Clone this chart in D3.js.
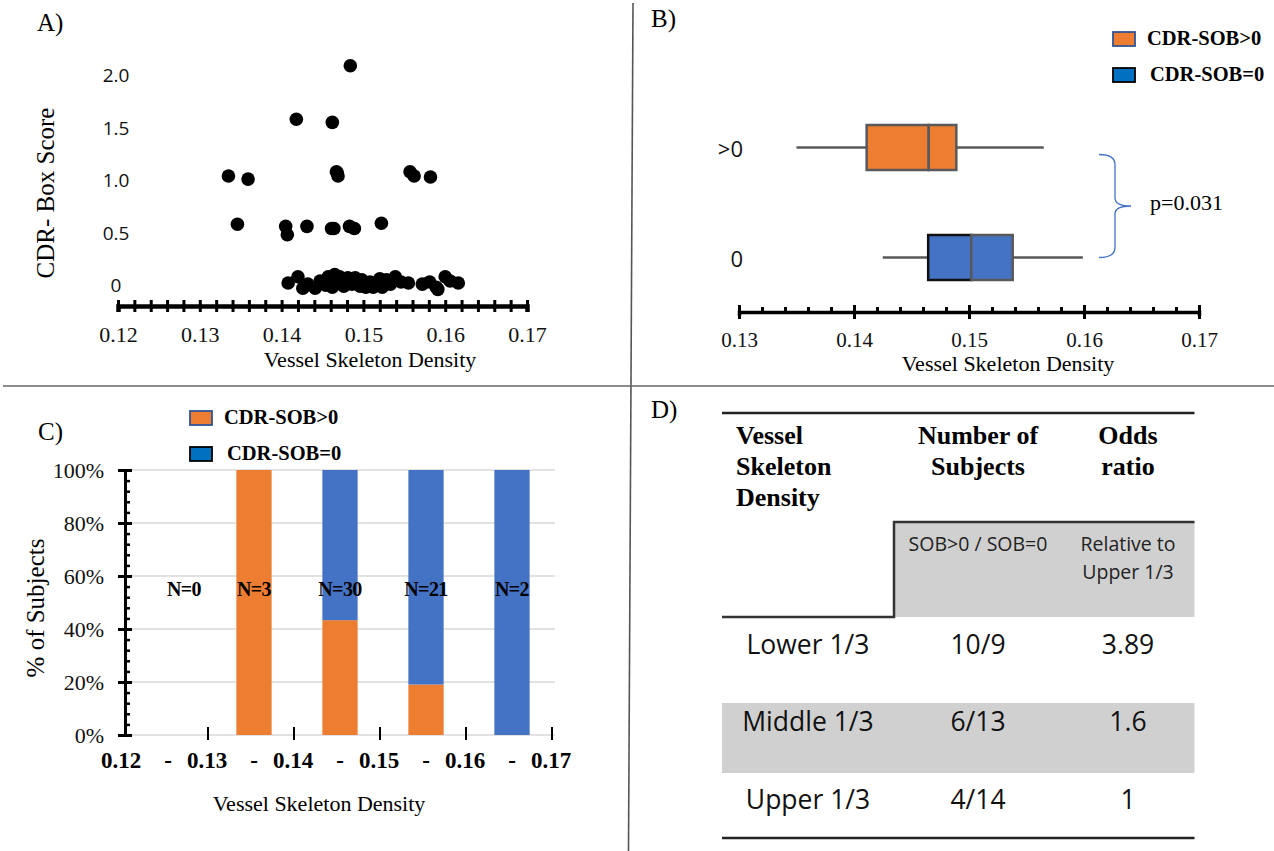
<!DOCTYPE html>
<html>
<head>
<meta charset="utf-8">
<script src="https://cdn.jsdelivr.net/npm/d3@7"></script>
<style>
  body { margin: 0; background: #fff; }
  svg { display: block; }
  .serif { font-family: "Liberation Serif", "Times New Roman", serif; }
  .sans { font-family: "Open Sans", "Liberation Sans", sans-serif; }
</style>
</head>
<body>
<div id="chart"></div>
<script>
// ---------- data ----------
// A) scatter: vessel skeleton density vs CDR box score (as read from the figure)
var scatterX = [0.1484, 0.1418, 0.1462, 0.1335, 0.1359, 0.1467, 0.1469, 0.1468, 0.1557, 0.1562, 0.1582,
  0.1346, 0.1405, 0.1407, 0.1431, 0.1461, 0.1464, 0.1483, 0.1489, 0.1522,
  0.1408, 0.1420, 0.1426, 0.1432, 0.1441, 0.1447, 0.1454, 0.1457, 0.1462, 0.1465, 0.1469, 0.1471,
  0.1476, 0.1481, 0.1486, 0.1490, 0.1496, 0.1498, 0.1503, 0.1508, 0.1512, 0.1517, 0.1520, 0.1523,
  0.1528, 0.1533, 0.1539, 0.1546, 0.1555, 0.1572, 0.1581, 0.1589, 0.1591, 0.1600, 0.1606, 0.1616];
var scatterY = [2.06, 1.55, 1.52, 1.01, 0.98, 1.05, 1.01, 1.04, 1.05, 1.01, 1.00,
  0.55, 0.53, 0.45, 0.53, 0.51, 0.51, 0.53, 0.51, 0.56,
  -0.01, 0.05, -0.06, -0.02, -0.06, 0.01, -0.03, 0.05, -0.05, 0.07, 0.00, 0.05,
  -0.04, 0.04, -0.02, 0.04, -0.04, 0.02, -0.05, 0.00, -0.05, 0.00, 0.03, -0.05,
  0.02, -0.02, 0.05, 0.00, -0.01, -0.02, 0.00, -0.05, -0.07, 0.05, 0.01, -0.01];
var scatterYTicks = [0, 0.5, 1.0, 1.5, 2.0];

// B) box plots
var boxGroups = [">0", "0"];
var boxMin = [0.1350, 0.1425];
var boxQ1 = [0.1411, 0.14645];
var boxMedian = [0.1465, 0.1502];
var boxQ3 = [0.1489, 0.1538];
var boxMax = [0.1565, 0.1599];
var pValue = "p=0.031";

// C) stacked percentage bars
var binEdges = ["0.12", "0.13", "0.14", "0.15", "0.16", "0.17"];
var binNames = ["0.12-0.13", "0.13-0.14", "0.14-0.15", "0.15-0.16", "0.16-0.17"];
var countPos = [0, 3, 13, 4, 0];    // CDR-SOB>0
var countZero = [0, 0, 17, 17, 2];  // CDR-SOB=0

// D) table
var tertiles = ["Lower 1/3", "Middle 1/3", "Upper 1/3"];
var subjectCounts = ["10/9", "6/13", "4/14"];
var oddsRatios = ["3.89", "1.6", "1"];

var legendLabels = ["CDR-SOB>0", "CDR-SOB=0"];

var orange = "#ed7d31", blue = "#4472c4";

var svg = d3.select("#chart").append("svg")
  .attr("width", 1274)
  .attr("height", 851);

svg.append("rect").attr("width", 1274).attr("height", 851).attr("fill", "#fff");

// panel dividers
svg.append("line").attr("x1", 633).attr("y1", 3).attr("x2", 628.5).attr("y2", 851)
  .attr("stroke", "#555").attr("stroke-width", 1.6);
svg.append("line").attr("x1", 3).attr("y1", 386).attr("x2", 1274).attr("y2", 386)
  .attr("stroke", "#666").attr("stroke-width", 1.6);

// panel letters
[["A)", 37, 31], ["B)", 651, 27], ["C)", 38, 440], ["D)", 651, 418]].forEach(function(p) {
  svg.append("text").attr("class", "serif").attr("x", p[1]).attr("y", p[2])
    .style("font-size", "25px").text(p[0]);
});

// ================= A) scatter =================
var xA = d3.scaleLinear().domain([0.12, 0.17]).range([118, 527]);
var yA = d3.scaleLinear().domain([0, 2]).range([282, 72]);
var axisYA = 306;

var gA = svg.append("g");

var minorA = gA.append("g")
  .attr("transform", "translate(0," + axisYA + ")")
  .call(d3.axisBottom(xA).tickValues(d3.range(0, 26).map(function(i) { return 0.12 + i * 0.002; }))
    .tickSize(6).tickFormat(""));
minorA.select(".domain").attr("stroke", "#000").attr("stroke-width", 4.5);
minorA.selectAll(".tick line").attr("y1", -6).attr("y2", 6).attr("stroke", "#000").attr("stroke-width", 3);

var majorA = gA.append("g")
  .attr("transform", "translate(0," + axisYA + ")")
  .call(d3.axisBottom(xA).tickValues(d3.range(0, 6).map(function(i) { return 0.12 + i * 0.01; }))
    .tickSize(0).tickFormat(d3.format(".2f")));
majorA.select(".domain").remove();
majorA.selectAll("text").attr("class", "serif").attr("y", 36).attr("dy", 0)
  .style("font-size", "22px").attr("fill", "#111");

var yAxisA = gA.append("g")
  .attr("transform", "translate(116,0)")
  .call(d3.axisLeft(yA).tickValues(scatterYTicks).tickSize(0)
    .tickFormat(function(d) { return d === 0 ? "0" : d3.format(".1f")(d); }));
yAxisA.select(".domain").remove();
yAxisA.selectAll("text").attr("class", "sans").attr("x", 0).attr("dy", "0.5em").attr("text-anchor", "middle")
  .style("font-size", "19px").attr("fill", "#111");

gA.selectAll("circle.pt")
  .data(d3.range(scatterX.length))
  .enter().append("circle")
  .attr("class", "pt")
  .attr("cx", function(i) { return xA(scatterX[i]); })
  .attr("cy", function(i) { return yA(scatterY[i]); })
  .attr("r", 6.8)
  .attr("fill", "#000");

gA.append("text").attr("class", "serif").attr("x", 370).attr("y", 367)
  .attr("text-anchor", "middle").style("font-size", "22px").text("Vessel Skeleton Density");
gA.append("text").attr("class", "serif")
  .attr("transform", "translate(54,193) rotate(-90)")
  .attr("text-anchor", "middle").style("font-size", "25px").text("CDR- Box Score");

// ================= B) box plots =================
var xB = d3.scaleLinear().domain([0.13, 0.17]).range([739, 1199]);
var yB = d3.scalePoint().domain(boxGroups).range([147.5, 257.5]);
var axisYB = 312;
var boxH = 45;
var gB = svg.append("g");

var minorB = gB.append("g")
  .attr("transform", "translate(0," + axisYB + ")")
  .call(d3.axisBottom(xB).tickValues(d3.range(0, 21).map(function(i) { return 0.13 + i * 0.002; }))
    .tickSize(4).tickFormat(""));
minorB.select(".domain").attr("stroke", "#000").attr("stroke-width", 3.5);
minorB.selectAll(".tick line").attr("y1", -5).attr("y2", 0).attr("stroke", "#000").attr("stroke-width", 3);

var majorB = gB.append("g")
  .attr("transform", "translate(0," + axisYB + ")")
  .call(d3.axisBottom(xB).tickValues(d3.range(0, 5).map(function(i) { return 0.13 + i * 0.01; }))
    .tickSize(7).tickFormat(d3.format(".2f")));
majorB.select(".domain").remove();
majorB.selectAll(".tick line").attr("y1", -7).attr("y2", 7).attr("stroke", "#000").attr("stroke-width", 3);
majorB.selectAll("text").attr("class", "serif").attr("y", 35).attr("dy", 0)
  .style("font-size", "21px").attr("fill", "#111");

gB.append("text").attr("class", "serif").attr("x", 1008).attr("y", 371)
  .attr("text-anchor", "middle").style("font-size", "22px").text("Vessel Skeleton Density");

boxGroups.forEach(function(g, i) {
  var cy = yB(g);
  gB.append("line")
    .attr("x1", xB(boxMin[i])).attr("x2", xB(boxMax[i]))
    .attr("y1", cy).attr("y2", cy)
    .attr("stroke", "#595959").attr("stroke-width", 2.5);
  var fill = i === 0 ? orange : blue;
  // lower half (Q1 - median) and upper half (median - Q3)
  gB.append("rect")
    .attr("x", xB(boxQ1[i])).attr("y", cy - boxH / 2)
    .attr("width", xB(boxMedian[i]) - xB(boxQ1[i])).attr("height", boxH)
    .attr("fill", fill).attr("stroke", i === 0 ? "#595959" : "#111").attr("stroke-width", 2.5);
  gB.append("rect")
    .attr("x", xB(boxMedian[i])).attr("y", cy - boxH / 2)
    .attr("width", xB(boxQ3[i]) - xB(boxMedian[i])).attr("height", boxH)
    .attr("fill", fill).attr("stroke", "#595959").attr("stroke-width", 2.5);
  gB.append("text").attr("class", "sans")
    .attr("x", 743).attr("y", cy + 2).attr("dy", "0.36em")
    .attr("text-anchor", "end").style("font-size", "22px").attr("fill", "#111").text(g);
});

// curly brace between groups
var b0 = yB(boxGroups[0]) + 7, b1 = yB(boxGroups[1]);
var bx = 1099, bm = (b0 + b1) / 2;
gB.append("path")
  .attr("d", "M" + bx + "," + b0 + " Q" + (bx + 16) + "," + b0 + " " + (bx + 16) + "," + (b0 + 10) +
    " L" + (bx + 16) + "," + (bm - 8) + " Q" + (bx + 16) + "," + bm + " " + (bx + 32) + "," + bm +
    " Q" + (bx + 16) + "," + bm + " " + (bx + 16) + "," + (bm + 8) +
    " L" + (bx + 16) + "," + (b1 - 10) + " Q" + (bx + 16) + "," + b1 + " " + bx + "," + b1)
  .attr("fill", "none").attr("stroke", blue).attr("stroke-width", 1.3);
gB.append("text").attr("class", "serif").attr("x", 1150).attr("y", 210)
  .style("font-size", "22px").text(pValue);

// legend B
function legend(g, x, y, tx, gap) {
  legendLabels.forEach(function(l, i) {
    g.append("rect").attr("x", x).attr("y", y + i * gap).attr("width", 22).attr("height", 14)
      .attr("fill", i === 0 ? orange : "#0070c0")
      .attr("stroke", i === 0 ? "#2f5597" : "#000").attr("stroke-width", 1.8);
    g.append("text").attr("class", "serif").attr("x", tx + i * 3).attr("y", y + 13 + i * gap)
      .style("font-size", "20.5px").style("font-weight", "bold").text(l);
  });
}
legend(gB, 1113, 32, 1147, 36);

// ================= C) stacked bars =================
var xC = d3.scaleBand().domain(binNames).range([125, 555]).paddingInner(0.59).paddingOuter(0.295);
var yC = d3.scaleLinear().domain([0, 1]).range([735, 470]);
var gC = svg.append("g");
var stepC = xC.step();

gC.selectAll("line.grid")
  .data(d3.range(0, 6).map(function(i) { return i * 0.2; }))
  .enter().append("line").attr("class", "grid")
  .attr("x1", 125).attr("x2", 555)
  .attr("y1", function(d) { return yC(d); }).attr("y2", function(d) { return yC(d); })
  .attr("stroke", "#d9d9d9").attr("stroke-width", 1.5);

var binData = binNames.map(function(b, i) {
  var n = countPos[i] + countZero[i];
  return { bin: b, n: n, pos: n ? countPos[i] / n : 0, zero: n ? countZero[i] / n : 0 };
});

gC.selectAll("rect.pos").data(binData).enter().append("rect").attr("class", "pos")
  .attr("x", function(d) { return xC(d.bin); })
  .attr("width", xC.bandwidth())
  .attr("y", function(d) { return yC(d.pos); })
  .attr("height", function(d) { return yC(0) - yC(d.pos); })
  .attr("fill", orange);
gC.selectAll("rect.zero").data(binData).enter().append("rect").attr("class", "zero")
  .attr("x", function(d) { return xC(d.bin); })
  .attr("width", xC.bandwidth())
  .attr("y", function(d) { return yC(d.pos + d.zero); })
  .attr("height", function(d) { return yC(d.pos) - yC(d.pos + d.zero); })
  .attr("fill", blue);

gC.selectAll("text.n").data(binData).enter().append("text").attr("class", "serif n")
  .attr("x", function(d) { return xC(d.bin) + xC.bandwidth() / 2 + (d.n === 0 ? 16 : 0); })
  .attr("y", 596).attr("text-anchor", "middle")
  .style("font-size", "20px").style("font-weight", "bold").style("letter-spacing", "-0.6px")
  .text(function(d) { return "N=" + d.n; });

// y axis C
var minorC = gC.append("g").attr("transform", "translate(125,0)")
  .call(d3.axisRight(yC).tickValues(d3.range(0, 26).map(function(i) { return i * 0.04; }))
    .tickSize(5).tickFormat(""));
minorC.select(".domain").attr("stroke", "#000").attr("stroke-width", 3);
minorC.selectAll(".tick line").attr("stroke", "#000").attr("stroke-width", 2.5);
var majorC = gC.append("g").attr("transform", "translate(125,0)")
  .call(d3.axisLeft(yC).tickValues(d3.range(0, 6).map(function(i) { return i * 0.2; }))
    .tickSize(7).tickFormat(d3.format(".0%")));
majorC.select(".domain").remove();
majorC.selectAll(".tick line").attr("x1", -7).attr("x2", 7).attr("stroke", "#000").attr("stroke-width", 3);
majorC.selectAll("text").attr("class", "serif").attr("x", -21)
  .style("font-size", "22px").attr("fill", "#111");

// x labels C: edges at band boundaries, dash at band centre
var edgeX = function(i) { return 125 + i * stepC - 4; };
gC.selectAll("line.edge").data(binEdges.slice(1)).enter().append("line").attr("class", "edge")
  .attr("x1", function(d, i) { return edgeX(i + 1) + 1; })
  .attr("x2", function(d, i) { return edgeX(i + 1) + 1; })
  .attr("y1", 727).attr("y2", 740).attr("stroke", "#000").attr("stroke-width", 2);
gC.selectAll("text.edge").data(binEdges).enter().append("text").attr("class", "serif edge")
  .attr("x", function(d, i) { return edgeX(i); }).attr("y", 768).attr("text-anchor", "middle")
  .style("font-size", "23px").style("font-weight", "bold").text(function(d) { return d; });
gC.selectAll("text.dash").data(binNames).enter().append("text").attr("class", "serif dash")
  .attr("x", function(d) { return xC(d) + xC.bandwidth() / 2; }).attr("y", 768).attr("text-anchor", "middle")
  .style("font-size", "23px").style("font-weight", "bold").text("-");

gC.append("text").attr("class", "serif").attr("x", 319).attr("y", 811)
  .attr("text-anchor", "middle").style("font-size", "22px").text("Vessel Skeleton Density");
gC.append("text").attr("class", "serif")
  .attr("transform", "translate(44,608) rotate(-90)")
  .attr("text-anchor", "middle").style("font-size", "25px").text("% of Subjects");

legend(gC, 190, 411, 224, 36);

// ================= D) table =================
var gD = svg.append("g");
var colX = [808, 978, 1128];
var tL = 722, tR = 1194.5;
var yD = d3.scalePoint().domain(tertiles).range([644, 799]);

gD.append("rect").attr("x", 894).attr("y", 521.7).attr("width", tR - 894).attr("height", 95.3)
  .attr("fill", "#d0d0d0");
gD.append("rect").attr("x", tL).attr("y", 703).attr("width", tR - tL).attr("height", 70)
  .attr("fill", "#d0d0d0");

gD.append("line").attr("x1", tL).attr("x2", tR).attr("y1", 413).attr("y2", 413)
  .attr("stroke", "#222").attr("stroke-width", 2.5);
gD.append("line").attr("x1", tL).attr("x2", tR).attr("y1", 838).attr("y2", 838)
  .attr("stroke", "#222").attr("stroke-width", 2.5);
gD.append("path").attr("d", "M" + tL + ",617 H894 V522 H" + tR)
  .attr("fill", "none").attr("stroke", "#333").attr("stroke-width", 2.5);

var head = [
  [["Vessel", "Skeleton", "Density"], 736, "start"],
  [["Number of", "Subjects"], colX[1], "middle"],
  [["Odds", "ratio"], colX[2], "middle"]
];
head.forEach(function(h) {
  h[0].forEach(function(t, j) {
    gD.append("text").attr("class", "serif").attr("x", h[1]).attr("y", 444 + j * 31)
      .attr("text-anchor", h[2]).style("font-size", "26px").style("font-weight", "bold")
      .text(t);
  });
});
gD.append("text").attr("class", "sans").attr("x", colX[1]).attr("y", 551)
  .attr("text-anchor", "middle").style("font-size", "19.5px").attr("fill", "#222").text("SOB>0 / SOB=0");
["Relative to", "Upper 1/3"].forEach(function(t, j) {
  gD.append("text").attr("class", "sans").attr("x", colX[2]).attr("y", 551 + j * 28)
    .attr("text-anchor", "middle").style("font-size", "19.5px").attr("fill", "#222").text(t);
});

tertiles.forEach(function(t, i) {
  [t, subjectCounts[i], oddsRatios[i]].forEach(function(v, c) {
    gD.append("text").attr("class", "sans").attr("x", colX[c]).attr("y", yD(t)).attr("dy", "0.36em")
      .attr("text-anchor", "middle").style("font-size", "26.5px").attr("fill", "#111").text(v);
  });
});
</script>
</body>
</html>
